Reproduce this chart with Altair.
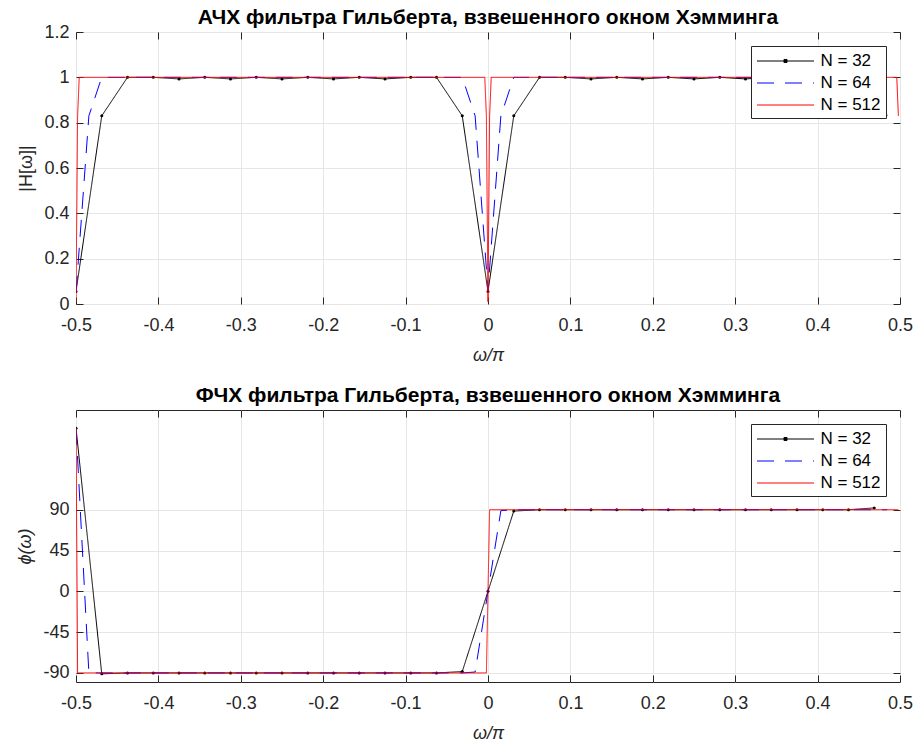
import altair as alt
import pandas as pd

series_names = ["N = 32", "N = 64", "N = 512"]
series_colors = ["#000000", "#0000ff", "#ff0000"]
series_dash = [[1, 0], [17, 11], [1, 0]]
LINE_PATH = "M-3,0H3"
DOT_LINE_PATH = "M-3,0H3M-0.16,-0.16H0.16V0.16H-0.16Z"
series_symbols = [DOT_LINE_PATH, LINE_PATH, LINE_PATH]

x_ticks = [-0.5, -0.4, -0.3, -0.2, -0.1, 0, 0.1, 0.2, 0.3, 0.4, 0.5]
mag_ticks = [0, 0.2, 0.4, 0.6, 0.8, 1, 1.2]
phase_ticks = [-90, -45, 0, 45, 90]

# N = 32 (every sample drawn with a dot)
x32 = [-0.5, -0.46875, -0.4375, -0.40625, -0.375, -0.34375, -0.3125, -0.28125,
       -0.25, -0.21875, -0.1875, -0.15625, -0.125, -0.09375, -0.0625, -0.03125,
       0.0, 0.03125, 0.0625, 0.09375, 0.125, 0.15625, 0.1875, 0.21875,
       0.25, 0.28125, 0.3125, 0.34375, 0.375, 0.40625, 0.4375, 0.46875]
mag32 = [0.055, 0.83, 1.0, 1.0, 0.993, 1.0, 0.993, 1.0,
         0.993, 1.0, 0.993, 1.0, 0.993, 1.0, 1.0, 0.83,
         0.055, 0.83, 1.0, 1.0, 0.993, 1.0, 0.993, 1.0,
         0.993, 1.0, 0.993, 1.0, 0.993, 1.0, 1.0, 0.83]
phase32 = [180, -91, -90, -90, -90, -90, -90, -90,
           -90, -90, -90, -90, -90, -90, -90, -88.5,
           0, 88.5, 90, 90, 90, 90, 90, 90,
           90, 90, 90, 90, 90, 90, 90, 92]

# N = 64 (vertices of the dashed curve)
x64 = [-0.5, -0.484375, -0.46875, -0.03125, -0.015625, 0.0, 0.015625, 0.03125, 0.46875, 0.484375]
mag64 = [0.05, 0.83, 1.0, 1.0, 0.83, 0.06, 0.83, 1.0, 1.0, 0.83]
phase64 = [180, -90, -90, -90, -89, 0, 89, 90, 90, 90]

# N = 512 (vertices of the solid red curve)
x512 = [-0.5, -0.498046875, -0.49609375, -0.00390625, -0.001953125, 0.0,
        0.001953125, 0.00390625, 0.49609375, 0.498046875]
mag512 = [0.01, 0.83, 1.0, 1.0, 0.83, 0.01, 0.83, 1.0, 1.0, 0.83]
phase512 = [180, -90, -90, -90, -90, 0, 90, 90, 90, 90]

rows = []
for name, xs, ms, ps in [("N = 32", x32, mag32, phase32),
                         ("N = 64", x64, mag64, phase64),
                         ("N = 512", x512, mag512, phase512)]:
    for xv, mv, pv in zip(xs, ms, ps):
        rows.append({"x": xv, "mag": mv, "phase": pv, "series": name})
df = pd.DataFrame(rows)

FONT = "Liberation Sans"
AX = "#262626"
TICK = 7


def panel(ycol, ydomain, yticks, ytitle, ytitle_style, title, title_offset):
    base = alt.Chart(df)
    xscale = alt.Scale(domain=[-0.5, 0.5], nice=False, zero=False, padding=0)
    yscale = alt.Scale(domain=ydomain, nice=False, zero=False, padding=0)

    x_main = alt.X("x:Q", scale=xscale,
                   axis=alt.Axis(orient="bottom", values=x_ticks,
                                 labelExpr="'' + datum.value", labelFlush=False,
                                 title="ω/π", titleFontStyle="italic",
                                 grid=True, ticks=True, tickSize=TICK, offset=-TICK,
                                 labelPadding=12, titlePadding=12))
    y_main = alt.Y(f"{ycol}:Q", scale=yscale,
                   axis=alt.Axis(orient="left", values=yticks,
                                 labelExpr="'' + datum.value", labelFlush=False,
                                 title=ytitle, titleFontStyle=ytitle_style,
                                 grid=True, ticks=True, tickSize=TICK, offset=-TICK,
                                 labelPadding=7, titlePadding=8))
    x_top = alt.X("x:Q", scale=xscale,
                  axis=alt.Axis(orient="top", values=x_ticks, labels=False,
                                title=None, grid=False, ticks=True,
                                tickSize=TICK, offset=-TICK))
    y_right = alt.Y(f"{ycol}:Q", scale=yscale,
                    axis=alt.Axis(orient="right", values=yticks, labels=False,
                                  title=None, grid=False, ticks=True,
                                  tickSize=TICK, offset=-TICK))
    x_none = alt.X("x:Q", scale=xscale, axis=None)
    y_none = alt.Y(f"{ycol}:Q", scale=yscale, axis=None)

    leg = alt.Legend(title=None)
    color = alt.Color("series:N",
                      scale=alt.Scale(domain=series_names, range=series_colors),
                      legend=leg)
    dash = alt.StrokeDash("series:N",
                          scale=alt.Scale(domain=series_names, range=series_dash),
                          legend=leg)
    shape = alt.Shape("series:N",
                      scale=alt.Scale(domain=series_names, range=series_symbols),
                      legend=leg)

    black = (base.transform_filter(alt.datum.series == "N = 32")
             .mark_line(strokeWidth=1, clip=True)
             .encode(x=x_main, y=y_main, color=color, strokeDash=dash))
    dots = (base.transform_filter(alt.datum.series == "N = 32")
            .mark_point(filled=True, size=9, color="#000000", opacity=1, clip=True)
            .encode(x=x_top, y=y_right))
    blue = (base.transform_filter(alt.datum.series == "N = 64")
            .mark_line(strokeWidth=1, clip=True)
            .encode(x=x_none, y=y_none, color=color, strokeDash=dash))
    red = (base.transform_filter(alt.datum.series == "N = 512")
           .mark_line(strokeWidth=1, clip=True)
           .encode(x=x_none, y=y_none, color=color, strokeDash=dash))
    # carries the legend symbol shapes only (no rows pass the filter)
    legend_shapes = (base.transform_filter("false")
                     .mark_point(filled=True, size=361, color="#000000", opacity=1)
                     .encode(x=x_none, y=y_none, shape=shape))

    return (alt.layer(black, dots, blue, red, legend_shapes)
            .resolve_axis(x="independent", y="independent")
            .properties(width=824, height=272,
                        title=alt.TitleParams(title, anchor="middle",
                                              offset=title_offset, frame="group")))


top = panel("mag", [0, 1.2], mag_ticks, "|H[ω]|", "normal",
            "АЧХ фильтра Гильберта, взвешенного окном Хэмминга", -5)
bottom = panel("phase", [-100, 200], phase_ticks, "ϕ(ω)", "italic",
               "ФЧХ фильтра Гильберта, взвешенного окном Хэмминга", 4)

chart = (
    alt.vconcat(top, bottom, spacing=19)
    .resolve_scale(color="independent", strokeDash="independent", shape="independent")
    .resolve_legend(color="independent", strokeDash="independent", shape="independent")
    .properties(padding={"left": 16, "top": 6, "right": 0, "bottom": 0},
                background="white")
    .configure_view(stroke=AX, strokeWidth=1)
    .configure_axis(gridColor="#e6e6e6", gridWidth=1,
                    domain=False, tickColor=AX, tickWidth=1,
                    labelFont=FONT, labelFontSize=18, labelColor=AX,
                    titleFont=FONT, titleFontSize=18, titleColor=AX,
                    titleFontWeight="normal")
    .configure_legend(orient="top-right", offset=14,
                      strokeColor=AX, fillColor="white",
                      padding=5, cornerRadius=0,
                      labelFont=FONT, labelFontSize=17, labelColor="#000000",
                      symbolType=LINE_PATH, symbolSize=361, symbolStrokeWidth=1,
                      symbolOffset=19.5, labelOffset=25, rowPadding=4)
    .configure_title(font=FONT, fontSize=21, fontWeight="bold", color="#000000")
)

chart.save("out.html", embed_options={"renderer": "svg", "actions": False})
